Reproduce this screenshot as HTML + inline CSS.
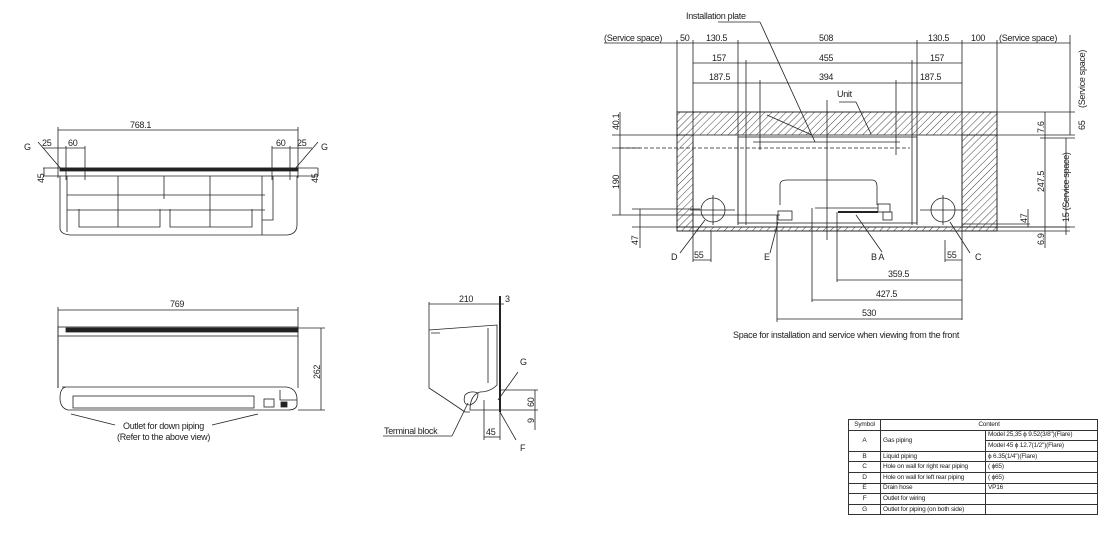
<!DOCTYPE html>
<html><head><style>
body{margin:0;background:#fff;width:1106px;height:535px;overflow:hidden;font-family:"Liberation Sans",sans-serif}
svg{position:absolute;left:0;top:0}
text{font-family:"Liberation Sans",sans-serif;font-size:9px;fill:#222;letter-spacing:-0.3px}
.tbl{position:absolute;left:848px;top:419px;border-collapse:collapse;font-size:6.5px;color:#222;letter-spacing:-0.2px;table-layout:fixed;width:249px}
.tbl td{border:1px solid #333;padding:0 2px;height:9.6px;line-height:8px;white-space:nowrap;overflow:hidden}
</style></head><body>
<svg width="1106" height="535" viewBox="0 0 1106 535">
<defs><pattern id="h" width="5" height="5" patternUnits="userSpaceOnUse" patternTransform="rotate(45)"><line x1="0" y1="0" x2="0" y2="5" stroke="#444" stroke-width="1"/></pattern></defs>
<g stroke="#222" stroke-width="0.8" fill="none">
<line x1="58" y1="130" x2="298" y2="130"/><line x1="58" y1="127" x2="58" y2="178"/><line x1="298" y1="127" x2="298" y2="178"/>
<line x1="43" y1="148" x2="85" y2="148"/><line x1="66" y1="146" x2="66" y2="180"/><line x1="85" y1="146" x2="85" y2="180"/>
<line x1="272" y1="148" x2="312" y2="148"/><line x1="272" y1="146" x2="272" y2="180"/><line x1="290" y1="146" x2="290" y2="180"/>
<line x1="38" y1="142" x2="62" y2="170"/><line x1="318" y1="142" x2="294" y2="170"/>
<line x1="43" y1="168" x2="318" y2="168"/><line x1="43" y1="176" x2="318" y2="176"/>
<line x1="44" y1="168" x2="44" y2="176"/><line x1="318" y1="168" x2="318" y2="176"/>
<rect x="60" y="168" width="238" height="3" fill="#222"/>
<path d="M60 176 V228 Q60 234 70 235 H287 Q297 234 297 225 V176"/>
<path d="M67 176 V232 M67 195 H265 M67 210 H265 M79 209 V227 H160 V209 M170 209 V227 H252 V209 M118 176 V227 M164 176 V199 M210 176 V227 M262 176 V235 M262 220 H273 V176"/>
<line x1="58" y1="310" x2="298" y2="310"/><line x1="58" y1="307" x2="58" y2="388"/><line x1="298" y1="307" x2="298" y2="332"/>
<rect x="58" y="327" width="240" height="9"/><rect x="66" y="328" width="232" height="4" fill="#222"/>
<line x1="58" y1="336" x2="58" y2="388"/><line x1="298" y1="336" x2="298" y2="388"/>
<path d="M62 387 H286 Q296 388 297 398 V405 Q296 410 288 410 H68 Q60 408 60 398 Q60 388 66 387Z"/>
<rect x="73" y="396" width="181" height="12"/><rect x="264" y="399" width="10" height="8"/><rect x="281" y="402" width="6" height="5" fill="#222"/><path d="M280 390 V400 H297"/>
<line x1="298" y1="328" x2="325" y2="328"/><line x1="298" y1="410" x2="325" y2="410"/><line x1="321" y1="328" x2="321" y2="410"/>
<line x1="71" y1="414" x2="115" y2="425"/><line x1="258" y1="414" x2="212" y2="425"/>
<line x1="429" y1="304" x2="504" y2="304"/><line x1="429" y1="302" x2="429" y2="330"/>
<line x1="500" y1="296" x2="500" y2="412" stroke-width="2"/>
<path d="M429 330 L497 325 V385 Q490 392 480 392 Q470 395 470 410 L495 410 H500 M429 330 V388 Q440 395 465 412 H470"/>
<path d="M431 333 H440 M488 328 V383"/>
<path d="M465 395 Q470 390 478 393 Q478 402 470 405 Q462 405 465 395Z"/>
<line x1="500" y1="390" x2="538" y2="390"/><line x1="500" y1="410" x2="538" y2="410"/><line x1="535" y1="390" x2="535" y2="430"/>
<line x1="484" y1="400" x2="484" y2="440"/><line x1="500" y1="410" x2="500" y2="440"/><line x1="484" y1="437" x2="500" y2="437"/>
<line x1="498" y1="400" x2="518" y2="372"/><line x1="500" y1="412" x2="516" y2="440"/>
<line x1="383" y1="436" x2="452" y2="436"/><line x1="452" y1="436" x2="468" y2="403"/>
<rect x="677" y="112" width="320" height="23" fill="url(#h)"/>
<rect x="677" y="135" width="16" height="92" fill="url(#h)"/>
<rect x="962" y="135" width="35" height="92" fill="url(#h)"/>
<rect x="677" y="227" width="320" height="4" fill="url(#h)"/>
<rect x="677" y="112" width="320" height="119"/>
<line x1="604" y1="43" x2="1070" y2="43"/>
<path d="M677 40 V112 M693 40 V231 M738 40 V225 M917 40 V225 M962 40 V231 M997 40 V112"/>
<line x1="693" y1="63" x2="962" y2="63"/><line x1="693" y1="83" x2="962" y2="83"/>
<path d="M746 60 V225 M912 60 V225 M760 80 V150 M896 80 V155"/>
<rect x="738" y="137" width="179" height="86"/>
<line x1="753" y1="142" x2="900" y2="142"/><line x1="620" y1="148" x2="910" y2="148" stroke-dasharray="4 2"/>
<path d="M780 205 V185 Q780 180 787 180 H872 Q877 180 877 187 V205"/>
<rect x="778" y="211" width="14" height="9"/><rect x="878" y="204" width="12" height="8"/><rect x="883" y="212" width="9" height="8"/>
<line x1="815" y1="208" x2="878" y2="208"/><line x1="838" y1="212" x2="878" y2="212" stroke-width="2"/>
<circle cx="713" cy="210" r="12"/><circle cx="943" cy="210" r="12"/>
<path d="M690 210 H735 M920 210 H968 M713 195 V225 M943 195 V225"/>
<line x1="827" y1="100" x2="827" y2="240"/>
<line x1="612" y1="135" x2="690" y2="135"/><line x1="612" y1="148" x2="640" y2="148"/><line x1="612" y1="215" x2="780" y2="215"/><line x1="632" y1="209" x2="700" y2="209"/><line x1="632" y1="227" x2="1075" y2="227"/>
<path d="M620 112 V215 M640 209 V248"/>
<line x1="997" y1="112" x2="1075" y2="112"/><line x1="997" y1="135" x2="1075" y2="135"/><line x1="962" y1="227" x2="1070" y2="227"/><line x1="962" y1="231" x2="1070" y2="231"/><line x1="962" y1="224" x2="1030" y2="224"/><line x1="1040" y1="138" x2="1075" y2="138"/>
<path d="M1045 112 V138 M1045 138 V231 M1028 209 V227 M1045 231 V248 M1070 35 V135 M1066 138 V235"/>
<line x1="767" y1="115" x2="812" y2="135"/><line x1="718" y1="22" x2="760" y2="22"/><line x1="760" y1="22" x2="815" y2="142"/>
<line x1="839" y1="102" x2="856" y2="102"/><line x1="856" y1="102" x2="871" y2="134"/>
<path d="M680 253 L705 220 M770 253 L778 222 M882 252 L856 215 M970 253 L950 222"/>
<path d="M693 231 V262 M711 231 V262 M693 260 H711 M945 260 H962 M962 231 V320 M945 240 V262"/>
<path d="M777 215 V322 M812 208 V302 M837 212 V282 M837 280 H962 M812 300 H962 M777 319 H962"/>
</g>
<g>
<text x="130" y="128">768.1</text><text x="24" y="150" font-size="11">G</text><text x="42" y="146">25</text><text x="68" y="146">60</text>
<text x="276" y="146">60</text><text x="297" y="146">25</text><text x="321" y="150" font-size="11">G</text>
<text transform="translate(44,183) rotate(-90)">45</text><text transform="translate(318,183) rotate(-90)">45</text>
<text x="170" y="307">769</text><text transform="translate(320,379) rotate(-90)">262</text>
<text x="123" y="429">Outlet for down piping</text><text x="117" y="440">(Refer to the above view)</text>
<text x="459" y="302">210</text><text x="505" y="302">3</text><text x="520" y="365" font-size="11">G</text><text x="520" y="451" font-size="11">F</text>
<text transform="translate(534,407) rotate(-90)">60</text><text transform="translate(534,423) rotate(-90)">9</text><text x="486" y="435">45</text><text x="384" y="434" font-size="10">Terminal block</text>
<text x="686" y="19">Installation plate</text>
<text x="604" y="41">(Service space)</text><text x="680" y="41">50</text><text x="706" y="41">130.5</text><text x="819" y="41">508</text><text x="928" y="41">130.5</text><text x="971" y="41">100</text><text x="999" y="41">(Service space)</text>
<text x="712" y="61">157</text><text x="819" y="61">455</text><text x="930" y="61">157</text>
<text x="709" y="80">187.5</text><text x="819" y="80">394</text><text x="920" y="80">187.5</text><text x="837" y="97">Unit</text>
<text transform="translate(619,130) rotate(-90)">40.1</text><text transform="translate(619,189) rotate(-90)">190</text><text transform="translate(638,245) rotate(-90)">47</text>
<text transform="translate(1085,108) rotate(-90)">(Service space)</text><text transform="translate(1085,130) rotate(-90)">65</text>
<text transform="translate(1044,133) rotate(-90)">7.6</text><text transform="translate(1044,192) rotate(-90)">247.5</text><text transform="translate(1069,222) rotate(-90)">15 (Service space)</text>
<text transform="translate(1027,223) rotate(-90)">47</text><text transform="translate(1044,245) rotate(-90)">6.9</text>
<text x="671" y="260" font-size="11">D</text><text x="694" y="258">55</text><text x="764" y="260" font-size="11">E</text><text x="871" y="260" font-size="11">B A</text><text x="947" y="258">55</text><text x="975" y="260" font-size="11">C</text>
<text x="888" y="277">359.5</text><text x="876" y="297">427.5</text><text x="862" y="316">530</text>
<text x="733" y="338" letter-spacing="-0.1">Space for installation and service when viewing from the front</text>
</g>
</svg>
<table class="tbl">
<colgroup><col style="width:32px"><col style="width:105px"><col style="width:112px"></colgroup>
<tr><td style="text-align:center">Symbol</td><td colspan="2" style="text-align:center">Content</td></tr>
<tr><td rowspan="2" style="text-align:center">A</td><td rowspan="2">Gas piping</td><td>Model 25,35 ϕ 9.52(3/8")(Flare)</td></tr>
<tr><td>Model 45 ϕ 12.7(1/2")(Flare)</td></tr>
<tr><td style="text-align:center">B</td><td>Liquid piping</td><td>ϕ 6.35(1/4")(Flare)</td></tr>
<tr><td style="text-align:center">C</td><td>Hole on wall for right rear piping</td><td>( ϕ65)</td></tr>
<tr><td style="text-align:center">D</td><td>Hole on wall for left rear piping</td><td>( ϕ65)</td></tr>
<tr><td style="text-align:center">E</td><td>Drain hose</td><td>VP16</td></tr>
<tr><td style="text-align:center">F</td><td>Outlet for wiring</td><td></td></tr>
<tr><td style="text-align:center">G</td><td>Outlet for piping (on both side)</td><td></td></tr>
</table>
</body></html>
